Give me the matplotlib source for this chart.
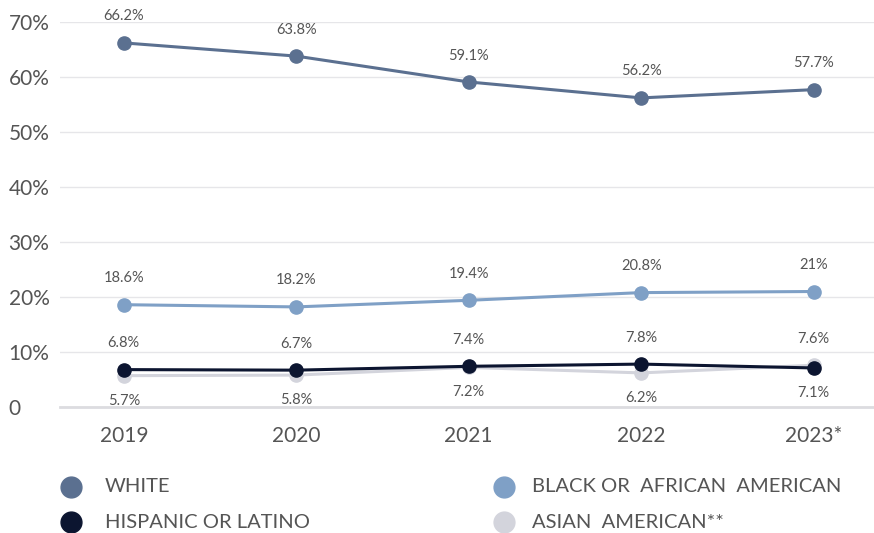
import matplotlib
matplotlib.use("Agg")
from matplotlib import pyplot as plt
from matplotlib.lines import Line2D

years = ["2019", "2020", "2021", "2022", "2023*"]
white = [66.2, 63.8, 59.1, 56.2, 57.7]
black = [18.6, 18.2, 19.4, 20.8, 21.0]
hispanic = [6.8, 6.7, 7.4, 7.8, 7.1]
asian = [5.7, 5.8, 7.2, 6.2, 7.6]
yticks = [0, 10, 20, 30, 40, 50, 60, 70]
ytick_labels = ["0", "10%", "20%", "30%", "40%", "50%", "60%", "70%"]

series = [
    ("WHITE", white, "#5b7090"),
    ("BLACK OR  AFRICAN  AMERICAN", black, "#7fa0c6"),
    ("HISPANIC OR LATINO", hispanic, "#0c1530"),
    ("ASIAN  AMERICAN**", asian, "#d3d4dc"),
]

plt.rcParams['font.family'] = ['Lato', 'DejaVu Sans']
txt = "#555555"

def fmt(v):
    s = "%.1f" % v
    if s.endswith(".0"):
        s = s[:-2]
    return s + "%"

fig = plt.figure(figsize=(8.74, 5.33), dpi=100)
ax = fig.add_axes([60 / 874, 1 - 407 / 533, 814 / 874, 385 / 533])
x = list(range(len(years)))

# draw lighter series first so the dark ones sit on top
for name, vals, col in [series[3], series[1], series[0], series[2]]:
    ax.plot(x, vals, color=col, lw=2.2, marker="o", markersize=9.5, zorder=3,
            solid_capstyle="round", clip_on=False)

def label(xi, v, above):
    ax.annotate(fmt(v), (xi, v), xytext=(0, 14 if above else -13),
                textcoords="offset points", ha="center",
                va="bottom" if above else "top", fontsize=10.5, color=txt)

for i in x:
    label(i, white[i], True)
    label(i, black[i], True)
    # whichever of the two low series is higher gets its label on top
    if hispanic[i] >= asian[i]:
        label(i, hispanic[i], True)
        label(i, asian[i], False)
    else:
        label(i, asian[i], True)
        label(i, hispanic[i], False)

ax.set_xlim(-0.37, 4.35)
ax.set_ylim(0, 70)
ax.set_yticks(yticks)
ax.set_yticklabels(ytick_labels, ha="left")
ax.set_xticks(x)
ax.set_xticklabels(years)
ax.grid(axis="y", color="#e6e6e9", lw=1)
ax.set_axisbelow(True)
for s in ["top", "right", "left"]:
    ax.spines[s].set_visible(False)
ax.spines["bottom"].set_color("#dcdce0")
ax.spines["bottom"].set_linewidth(2)
ax.tick_params(axis="y", length=0, labelsize=15, colors=txt, pad=37)
ax.tick_params(axis="x", length=0, labelsize=15, colors=txt, pad=14)

# legend in two columns below the plot: (marker x, text x, y) in pixels
pos = [(71, 105, 487), (504, 532, 487), (71, 105, 522), (504, 532, 522)]
for (name, vals, col), (mx, tx, py) in zip(series, pos):
    fig.add_artist(Line2D([mx / 874], [1 - py / 533], marker="o", markersize=15,
                          color=col, lw=0, transform=fig.transFigure))
    fig.text(tx / 874, 1 - py / 533, name, fontsize=14.5, color=txt,
             va="center", ha="left")

fig.savefig("out.png", dpi=100, facecolor="white")
